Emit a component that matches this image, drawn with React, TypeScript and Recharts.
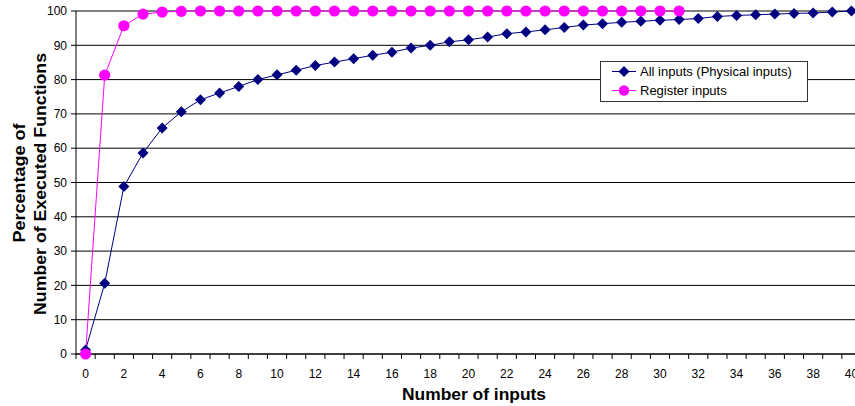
import { LineChart, Line, XAxis, YAxis, CartesianGrid, Legend, Label } from "recharts";

const INPUT_COUNTS = [
  0, 1, 2, 3, 4, 5, 6, 7, 8, 9, 10, 11, 12, 13, 14, 15, 16, 17, 18, 19, 20,
  21, 22, 23, 24, 25, 26, 27, 28, 29, 30, 31, 32, 33, 34, 35, 36, 37, 38, 39, 40,
];

const ALL_INPUTS = [
  1.2, 20.6, 48.8, 58.6, 65.9, 70.6, 74.1, 76.1, 78.0, 80.0, 81.4, 82.7, 84.1,
  85.1, 86.1, 87.1, 88.0, 89.2, 90.0, 91.0, 91.6, 92.4, 93.4, 93.9, 94.5, 95.2,
  95.9, 96.3, 96.7, 97.0, 97.3, 97.5, 97.8, 98.4, 98.7, 98.9, 99.1, 99.3, 99.4,
  99.7, 100,
];

const REGISTER_INPUTS = [
  0, 81.3, 95.7, 99.1, 99.7, 99.9, 100, 100, 100, 100, 100, 100, 100, 100, 100,
  100, 100, 100, 100, 100, 100, 100, 100, 100, 100, 100, 100, 100, 100, 100,
  100, 100,
];

const X_LABELS = [0, 2, 4, 6, 8, 10, 12, 14, 16, 18, 20, 22, 24, 26, 28, 30, 32, 34, 36, 38, 40];
const Y_TICKS = [0, 10, 20, 30, 40, 50, 60, 70, 80, 90, 100];

const SERIES_NAMES = ["All inputs (Physical inputs)", "Register inputs"];
const NAVY = "#000080";
const MAGENTA = "#FF00FF";
const FONT = "'Liberation Sans', Arial, sans-serif";

// layout
const CHART_W = 861;
const CHART_H = 406;
const Y_AXIS_W = 76;
const PLOT_W = CHART_W - Y_AXIS_W;
const STEP = PLOT_W / INPUT_COUNTS.length;

const data = INPUT_COUNTS.map((x, i) => ({
  x,
  all: ALL_INPUTS[i],
  reg: i < REGISTER_INPUTS.length ? REGISTER_INPUTS[i] : null,
}));

function Diamond(props: any) {
  const { cx, cy, index } = props;
  if (cx == null || cy == null) return null;
  const r = 5.5;
  return (
    <polygon
      key={`d-${index}`}
      points={`${cx},${cy - r} ${cx + r},${cy} ${cx},${cy + r} ${cx - r},${cy}`}
      fill={NAVY}
    />
  );
}

function Circle(props: any) {
  const { cx, cy, index, value } = props;
  if (cx == null || cy == null || value == null) return null;
  return <circle key={`c-${index}`} cx={cx} cy={cy} r={5.6} fill={MAGENTA} />;
}

function XTick(props: any) {
  const { x, y, payload } = props;
  const v = payload.value;
  return (
    <g>
      <line x1={x - STEP / 2} y1={y} x2={x - STEP / 2} y2={y + 5} stroke="#000" />
      {X_LABELS.includes(v) && (
        <text x={x} y={y + 24} textAnchor="middle" fontSize={12} fontFamily={FONT} fill="#000">
          {v}
        </text>
      )}
    </g>
  );
}

function LegendBox() {
  return (
    <svg width={208} height={41} style={{ display: "block" }}>
      <rect x={0.5} y={0.5} width={207} height={40} fill="#fff" stroke="#333" />
      <line x1={12} y1={10.5} x2={36} y2={10.5} stroke={NAVY} />
      <polygon points="24,5 29.5,10.5 24,16 18.5,10.5" fill={NAVY} />
      <text x={40} y={15} fontSize={13} fontFamily={FONT} fill="#000">
        {SERIES_NAMES[0]}
      </text>
      <line x1={12} y1={29.5} x2={36} y2={29.5} stroke={MAGENTA} />
      <circle cx={24} cy={29.5} r={5.2} fill={MAGENTA} />
      <text x={40} y={34} fontSize={13} fontFamily={FONT} fill="#000">
        {SERIES_NAMES[1]}
      </text>
    </svg>
  );
}

export default function App() {
  return (
    <div
      style={{
        position: "absolute",
        left: 0,
        top: 0,
        width: 855,
        height: 406,
        overflow: "hidden",
        background: "#fff",
      }}
    >
      <LineChart
        width={CHART_W}
        height={CHART_H}
        data={data}
        margin={{ top: 11, right: 0, bottom: 0, left: 0 }}
      >
        <CartesianGrid vertical={false} stroke="#000" />
        <XAxis
          dataKey="x"
          type="number"
          domain={[-0.5, 40.5]}
          ticks={INPUT_COUNTS}
          interval={0}
          height={52}
          tickSize={0}
          tickMargin={0}
          tickLine={false}
          axisLine={{ stroke: "#000" }}
          tick={<XTick />}
        >
          <Label
            content={() => (
              <text
                x={474}
                y={400}
                textAnchor="middle"
                fontSize={16}
                fontWeight="bold"
                fontFamily={FONT}
                textLength={144}
                lengthAdjust="spacingAndGlyphs"
                fill="#000"
              >
                Number of inputs
              </text>
            )}
          />
        </XAxis>
        <YAxis
          type="number"
          domain={[0, 100]}
          ticks={Y_TICKS}
          interval={0}
          width={Y_AXIS_W}
          tickSize={5}
          tickMargin={4}
          axisLine={{ stroke: "#000" }}
          tickLine={{ stroke: "#000" }}
          tick={{ fontSize: 12, fontFamily: FONT, fill: "#000" }}
        >
          <Label
            content={() => (
              <g fontFamily={FONT} fontWeight="bold" fontSize={17} fill="#000">
                <text
                  x={25}
                  y={183}
                  transform="rotate(-90 25 183)"
                  textAnchor="middle"
                  textLength={119}
                  lengthAdjust="spacingAndGlyphs"
                >
                  Percentage of
                </text>
                <text
                  x={45.5}
                  y={184}
                  transform="rotate(-90 45.5 184)"
                  textAnchor="middle"
                  textLength={262}
                  lengthAdjust="spacingAndGlyphs"
                >
                  Number of Executed Functions
                </text>
              </g>
            )}
          />
        </YAxis>
        <Legend
          layout="horizontal"
          verticalAlign="middle"
          align="center"
          wrapperStyle={{ left: 600, top: 61, width: 208, height: 41 }}
          content={() => <LegendBox />}
        />
        <Line
          type="linear"
          dataKey="all"
          name={SERIES_NAMES[0]}
          stroke={NAVY}
          strokeWidth={1}
          dot={<Diamond />}
          activeDot={false}
          isAnimationActive={false}
        />
        <Line
          type="linear"
          dataKey="reg"
          name={SERIES_NAMES[1]}
          stroke={MAGENTA}
          strokeWidth={1}
          dot={<Circle />}
          activeDot={false}
          isAnimationActive={false}
        />
      </LineChart>
    </div>
  );
}
